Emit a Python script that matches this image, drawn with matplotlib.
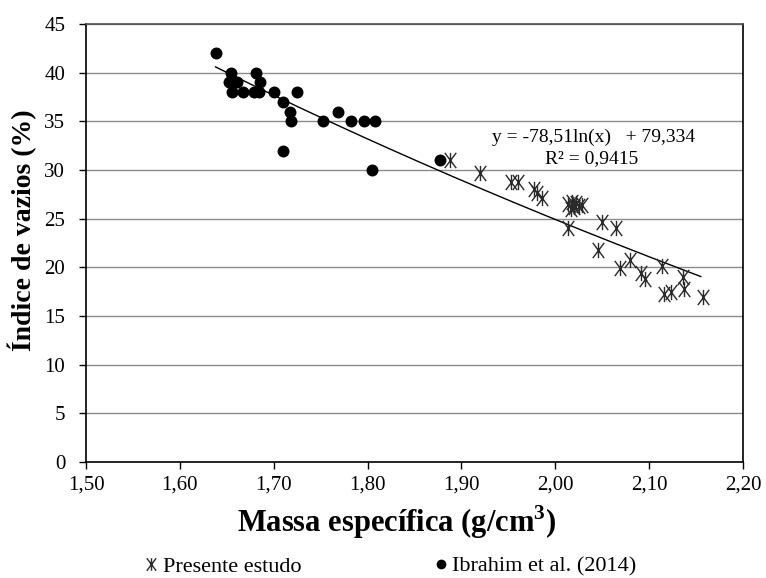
import numpy as np
import matplotlib
matplotlib.use("Agg")
import matplotlib.pyplot as plt
from matplotlib.path import Path
from matplotlib.lines import Line2D

plt.rcParams["font.family"] = ["Liberation Serif", "DejaVu Serif"]

# Presente estudo (asteriscos)
massa_presente = [1.888, 1.920, 1.953, 1.960, 1.977, 1.981, 1.986,
                  2.014, 2.017, 2.020, 2.022, 2.025, 2.028, 2.018,
                  2.013, 2.045, 2.050, 2.065, 2.080, 2.069, 2.091,
                  2.096, 2.114, 2.136, 2.116, 2.123, 2.137, 2.157]
vazios_presente = [31.0, 29.7, 28.8, 28.8, 28.0, 27.6, 27.1,
                   26.5, 26.0, 26.2, 26.6, 26.3, 26.4, 26.7,
                   24.0, 21.8, 24.7, 24.0, 20.8, 19.9, 19.4,
                   18.8, 20.1, 19.0, 17.3, 17.5, 17.8, 16.9]

# Ibrahim et al. (2014) (circulos)
massa_ibrahim = [1.638, 1.654, 1.681, 1.652, 1.661, 1.685, 1.656, 1.667,
                 1.679, 1.684, 1.700, 1.725, 1.710, 1.717, 1.718, 1.768,
                 1.753, 1.782, 1.796, 1.808, 1.710, 1.805, 1.877]
vazios_ibrahim = [42, 40, 40, 39, 39, 39, 38, 38,
                  38, 38, 38, 38, 37, 36, 35, 36,
                  35, 35, 35, 35, 32, 30, 31]

# linha de tendencia logaritmica
coef_a = -78.51
coef_b = 79.334
x_min_trend = 1.638
x_max_trend = 2.155

x_ticks = [1.50, 1.60, 1.70, 1.80, 1.90, 2.00, 2.10, 2.20]
y_ticks = list(range(0, 50, 5))

# marcador: X com traco vertical
asterisco = Path([(0, -1), (0, 1), (-0.75, -1), (0.75, 1), (-0.75, 1), (0.75, -1)],
                 [Path.MOVETO, Path.LINETO, Path.MOVETO, Path.LINETO, Path.MOVETO, Path.LINETO])

fig = plt.figure(figsize=(7.66, 5.78), dpi=100)
ax = fig.add_axes([0.1123, 0.2007, 0.8577, 0.7578])

for v in y_ticks[1:]:
    ax.axhline(v, color="#8c8c8c", lw=1.0, zorder=0)

xt = np.linspace(x_min_trend, x_max_trend, 200)
ax.plot(xt, coef_a * np.log(xt) + coef_b, color="black", lw=1.0, zorder=2)

ax.plot(massa_presente, vazios_presente, ls="none", marker=asterisco,
        markersize=11, markeredgecolor="#2a2a2a", markerfacecolor="none",
        markeredgewidth=1.0, zorder=3)
ax.plot(massa_ibrahim, vazios_ibrahim, ls="none", marker="o",
        markersize=8.6, markeredgewidth=0, color="black", zorder=3)

ax.set_xlim(1.50, 2.20)
ax.set_ylim(0, 45)
ax.set_xticks(x_ticks)
ax.set_xticklabels([f"{t:.2f}".replace(".", ",") for t in x_ticks], fontsize=15)
ax.set_yticks(y_ticks)
ax.set_yticklabels([str(t) for t in y_ticks], fontsize=15)
ax.tick_params(axis="y", direction="out", length=5, width=1.0, pad=10)
ax.tick_params(axis="x", direction="out", length=5, width=1.0, pad=5)

for s in ["left", "bottom", "right"]:
    ax.spines[s].set_color("black")
    ax.spines[s].set_linewidth(1.2)
ax.spines["top"].set_color("#505050")
ax.spines["top"].set_linewidth(1.2)

fig.text(0.518, 0.097, "Massa específica (g/cm$^\\mathregular{3}$)", fontsize=22,
         fontweight="bold", ha="center", va="center")
fig.text(0.029, 0.602, "Índice de vazios (%)", fontsize=20, fontweight="bold",
         rotation=90, ha="center", va="center")

ax.text(0.772, 0.742, "y = -78,51ln(x)   + 79,334", transform=ax.transAxes,
        fontsize=14, ha="center", va="center")
ax.text(0.770, 0.692, "R² = 0,9415", transform=ax.transAxes,
        fontsize=14, ha="center", va="center")

handles = [Line2D([], [], ls="none", marker=asterisco, markersize=9,
                  markeredgecolor="#2a2a2a", markerfacecolor="none", markeredgewidth=1.0),
           Line2D([], [], ls="none", marker="o", markersize=6, color="black")]
fig.legend(handles, ["Presente estudo", "Ibrahim et al. (2014)"],
           loc="center", bbox_to_anchor=(0.507, 0.02), ncol=2, frameon=False,
           fontsize=16, handletextpad=0.0, columnspacing=5.8, handlelength=1.0)

fig.savefig("out.png", dpi=100)
